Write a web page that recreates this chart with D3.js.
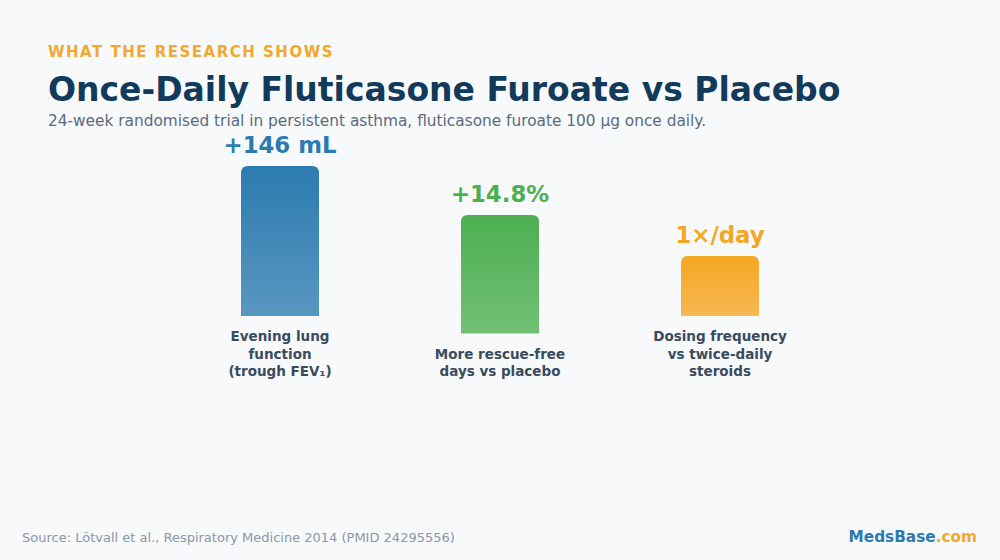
<!DOCTYPE html>
<html><head><meta charset="utf-8">
<script src="https://cdn.jsdelivr.net/npm/d3@7"></script>
<style>
html,body{margin:0;padding:0;background:#f7f9fb;}
svg{display:block;font-family:"DejaVu Sans",sans-serif;}
</style></head>
<body><svg id="c" width="1000" height="560"></svg>
<script>
const categories = ["fev1", "rescue", "dosing"];
const barScores = [100, 79, 40];
const valueLabels = ["+146 mL", "+14.8%", "1×/day"];
const categoryLabels = [
  ["Evening lung", "function", "(trough FEV₁)"],
  ["More rescue-free", "days vs placebo"],
  ["Dosing frequency", "vs twice-daily", "steroids"]
];
const colors = ["#2c7bb0", "#4caf50", "#f5a623"];

const svg = d3.select("#c");
svg.append("rect").attr("width",1000).attr("height",560).attr("fill","#f7f9fb");

svg.append("text").attr("x",48).attr("y",57).attr("fill","#f0a830")
  .attr("font-size",15).attr("font-weight","bold").attr("letter-spacing",1.5)
  .text("WHAT THE RESEARCH SHOWS");
svg.append("text").attr("x",48).attr("y",101).attr("fill","#123a5a")
  .attr("font-size",33).attr("font-weight","bold")
  .text("Once-Daily Fluticasone Furoate vs Placebo");
svg.append("text").attr("x",48).attr("y",126).attr("fill","#5a6b7d")
  .attr("font-size",15.35)
  .text("24-week randomised trial in persistent asthma, fluticasone furoate 100 µg once daily.");

const x = d3.scalePoint().domain(categories).range([280,720]);
const h = d3.scaleLinear().domain([0,100]).range([0,150]);
const barW = 78, r = 7;
const labelBottom = 376, lineH = 17.5, gap = 25;

const defs = svg.append("defs");
categories.forEach((c,i)=>{
  const g = defs.append("linearGradient").attr("id","g"+i).attr("x1",0).attr("y1",0).attr("x2",0).attr("y2",1);
  g.append("stop").attr("offset","0%").attr("stop-color",colors[i]).attr("stop-opacity",1);
  g.append("stop").attr("offset","100%").attr("stop-color",colors[i]).attr("stop-opacity",0.78);
});

function topRounded(x0,y0,w,hh,rr){
  return `M${x0},${y0+hh}V${y0+rr}Q${x0},${y0} ${x0+rr},${y0}H${x0+w-rr}Q${x0+w},${y0} ${x0+w},${y0+rr}V${y0+hh}Z`;
}

categories.forEach((c,i)=>{
  const lines = categoryLabels[i];
  const firstBaseline = labelBottom - (lines.length-1)*lineH;
  const bottom = firstBaseline - gap;
  const bh = h(barScores[i]);
  const top = bottom - bh;
  const cx = x(c);
  svg.append("path").attr("d", topRounded(cx-barW/2, top, barW, bh, r)).attr("fill","url(#g"+i+")");
  svg.append("text").attr("x",cx).attr("y",top-13).attr("text-anchor","middle")
    .attr("fill",colors[i]).attr("font-size",22.8).attr("font-weight","bold").text(valueLabels[i]);
  const t = svg.append("text").attr("text-anchor","middle").attr("fill","#3a4b5e")
    .attr("font-size",13.5).attr("font-weight","bold");
  lines.forEach((l,j)=>{
    t.append("tspan").attr("x",cx).attr("y",firstBaseline + j*lineH).text(l);
  });
});

svg.append("text").attr("x",22).attr("y",542).attr("fill","#8a97a6").attr("font-size",13)
  .text("Source: Lötvall et al., Respiratory Medicine 2014 (PMID 24295556)");
const brand = svg.append("text").attr("x",977).attr("y",542).attr("text-anchor","end")
  .attr("font-size",15.3).attr("font-weight","bold");
brand.append("tspan").attr("fill","#2e78b0").text("MedsBase");
brand.append("tspan").attr("fill","#f0a830").text(".com");
</script></body></html>
